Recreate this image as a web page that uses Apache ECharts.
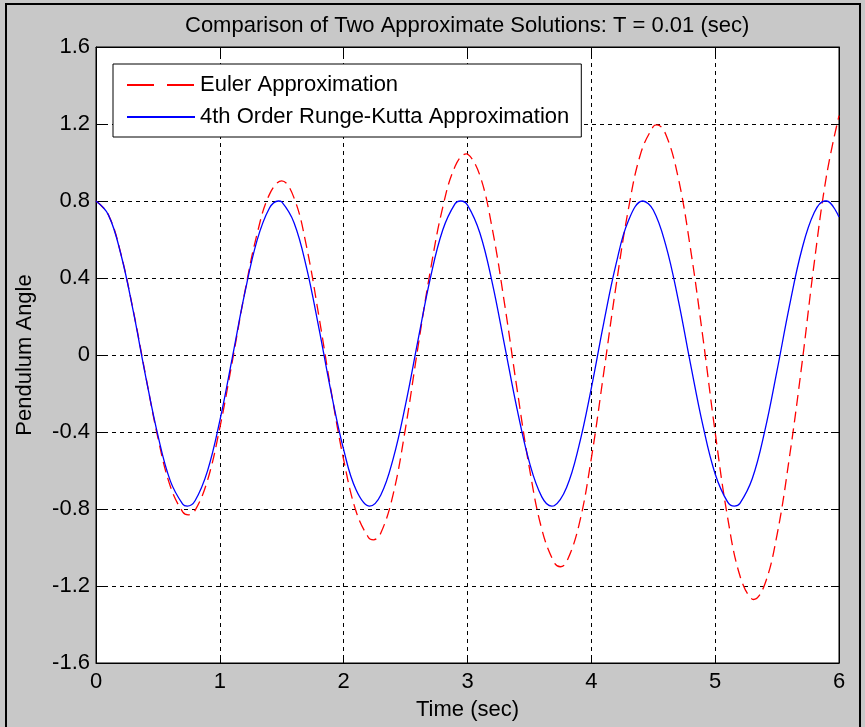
<!DOCTYPE html>
<html lang="en">
  <head>
    <meta charset="UTF-8" />
    <title>Comparison of Two Approximate Solutions</title>
    <style>
      html,
      body {
        margin: 0;
        padding: 0;
        background: #c8c8c8;
      }
      #chart-container {
        width: 865px;
        height: 727px;
      }
    </style>
    <script src="https://cdn.jsdelivr.net/npm/echarts@6/dist/echarts.min.js"></script>
  </head>
  <body>
    <div id="chart-container"></div>
    <script>
      // values (time in sec, angle in rad)
      const eulerTime = [
        0, 0.1, 0.2, 0.3, 0.37, 0.4, 0.5, 0.6, 0.7, 0.745, 0.8, 0.9, 1.0, 1.1,
        1.2, 1.3, 1.4, 1.5, 1.6, 1.7, 1.8, 1.9, 2.0, 2.1, 2.2, 2.24, 2.3, 2.4,
        2.5, 2.6, 2.7, 2.8, 2.9, 2.99, 3.0, 3.1, 3.2, 3.3, 3.4, 3.5, 3.6, 3.7,
        3.75, 3.8, 3.9, 4.0, 4.1, 4.2, 4.3, 4.4, 4.5, 4.53, 4.6, 4.7, 4.8, 4.9,
        5.0, 5.1, 5.2, 5.3, 5.31, 5.4, 5.5, 5.6, 5.7, 5.8, 5.9, 6.0,
      ];
      const eulerAngle = [
        0.8, 0.729, 0.528, 0.234, 0, -0.104, -0.43, -0.682, -0.815, -0.83,
        -0.807, -0.652, -0.378, -0.036, 0.321, 0.627, 0.833, 0.905, 0.815,
        0.564, 0.201, -0.192, -0.545, -0.812, -0.948, -0.96, -0.925, -0.723,
        -0.377, 0.041, 0.438, 0.767, 0.98, 1.045, 1.044, 0.933, 0.656, 0.263,
        -0.176, -0.588, -0.905, -1.078, -1.1, -1.075, -0.884, -0.537, -0.093,
        0.361, 0.76, 1.05, 1.187, 1.195, 1.148, 0.926, 0.555, 0.096, -0.402,
        -0.842, -1.147, -1.269, -1.27, -1.192, -0.933, -0.53, -0.05, 0.479,
        0.935, 1.243,
      ];
      const rkTime = [
        0, 0.1, 0.2, 0.3, 0.4, 0.5, 0.6, 0.7, 0.737, 0.8, 0.9, 1.0, 1.1, 1.2,
        1.3, 1.4, 1.473, 1.5, 1.6, 1.7, 1.8, 1.9, 2.0, 2.1, 2.21, 2.3, 2.4, 2.5,
        2.6, 2.7, 2.8, 2.9, 2.946, 3.0, 3.1, 3.2, 3.3, 3.4, 3.5, 3.6, 3.68, 3.7,
        3.8, 3.9, 4.0, 4.1, 4.2, 4.3, 4.415, 4.5, 4.6, 4.7, 4.8, 4.9, 5.0, 5.1,
        5.155, 5.2, 5.3, 5.4, 5.5, 5.6, 5.7, 5.8, 5.885, 5.9, 6.0,
      ];
      const rkAngle = [
        0.8, 0.728, 0.526, 0.23, -0.108, -0.418, -0.654, -0.775, -0.785,
        -0.757, -0.603, -0.341, -0.016, 0.317, 0.594, 0.762, 0.8, 0.795, 0.686,
        0.454, 0.14, -0.198, -0.492, -0.7, -0.785, -0.727, -0.538, -0.256,
        0.076, 0.399, 0.649, 0.786, 0.8, 0.779, 0.634, 0.375, 0.049, -0.28,
        -0.558, -0.737, -0.785, -0.783, -0.688, -0.472, -0.172, 0.166, 0.473,
        0.699, 0.8, 0.753, 0.573, 0.292, -0.043, -0.363, -0.618, -0.763,
        -0.785, -0.771, -0.642, -0.397, -0.08, 0.255, 0.548, 0.74, 0.8, 0.8,
        0.717,
      ];
      const xTicks = [0, 1, 2, 3, 4, 5, 6];
      const yTicks = [-1.6, -1.2, -0.8, -0.4, 0, 0.4, 0.8, 1.2, 1.6];

      const font = "Liberation Sans, Arial, sans-serif";
      const eulerData = eulerTime.map((t, i) => [t, eulerAngle[i]]);
      const rkData = rkTime.map((t, i) => [t, rkAngle[i]]);

      function axisBase(min, max, step) {
        return {
          type: "value",
          min: min,
          max: max,
          interval: step,
          axisLine: { show: true, onZero: false, lineStyle: { color: "#000", width: 1 } },
          axisTick: { show: true, inside: true, length: 8, lineStyle: { color: "#000" } },
        };
      }

      let dom = document.getElementById("chart-container");
      let myChart = echarts.init(dom, null, { renderer: "canvas" });
      let option = {
        backgroundColor: "#c8c8c8",
        animation: false,
        title: {
          text: "Comparison of Two Approximate Solutions: T = 0.01 (sec)",
          left: 180,
          top: 10,
          textStyle: { fontFamily: font, fontSize: 22, fontWeight: "normal", color: "#000" },
        },
        graphic: [
          {
            type: "rect",
            shape: { x: 6, y: 4, width: 854, height: 740 },
            style: { fill: null, stroke: "#000", lineWidth: 2 },
            silent: true,
          },
        ],
        legend: {
          orient: "vertical",
          left: 113,
          top: 64,
          padding: [9, 12, 8, 13],
          itemGap: 8,
          itemWidth: 68,
          itemHeight: 2,
          itemStyle: { opacity: 0 },
          backgroundColor: "#fff",
          borderColor: "#000",
          borderWidth: 1,
          textStyle: { fontFamily: font, fontSize: 22, color: "#000", lineHeight: 24 },
          data: [
            {
              name: "Euler Approximation",
              lineStyle: { type: [27, 13] },
            },
            { name: "4th Order Runge-Kutta Approximation" },
          ],
        },
        grid: {
          left: 96,
          top: 47,
          right: 26,
          bottom: 64,
          show: true,
          backgroundColor: "#fff",
          borderColor: "#000",
          borderWidth: 1,
        },
        xAxis: [
          Object.assign(axisBase(xTicks[0], xTicks[xTicks.length - 1], 1), {
            position: "bottom",
            name: "Time (sec)",
            nameLocation: "middle",
            nameGap: 36,
            nameTextStyle: { fontFamily: font, fontSize: 22, color: "#000" },
            axisLabel: { margin: 8, fontFamily: font, fontSize: 22, color: "#000" },
            splitLine: { show: true, lineStyle: { color: "#000", type: [4, 4] } },
          }),
          Object.assign(axisBase(xTicks[0], xTicks[xTicks.length - 1], 1), {
            position: "top",
            axisLabel: { show: false },
            splitLine: { show: false },
          }),
        ],
        yAxis: [
          Object.assign(axisBase(yTicks[0], yTicks[yTicks.length - 1], 0.4), {
            position: "left",
            name: "Pendulum Angle",
            nameLocation: "middle",
            nameGap: 60,
            nameTextStyle: { fontFamily: font, fontSize: 22, color: "#000" },
            axisLabel: {
              margin: 6,
              fontFamily: font,
              fontSize: 22,
              color: "#000",
              formatter: (v) => String(Math.round(v * 10) / 10),
            },
            splitLine: { show: true, lineStyle: { color: "#000", type: [4, 4] } },
          }),
          Object.assign(axisBase(yTicks[0], yTicks[yTicks.length - 1], 0.4), {
            position: "right",
            axisLabel: { show: false },
            splitLine: { show: false },
          }),
        ],
        series: [
          {
            name: "Euler Approximation",
            type: "line",
            data: eulerData,
            symbol: "none",
            smooth: 0.4,
            lineStyle: { color: "#ff0000", width: 1.3, type: [11, 6] },
            itemStyle: { color: "#ff0000" },
            z: 3,
          },
          {
            name: "4th Order Runge-Kutta Approximation",
            type: "line",
            data: rkData,
            symbol: "none",
            smooth: 0.4,
            lineStyle: { color: "#0000ff", width: 1.3 },
            itemStyle: { color: "#0000ff" },
            z: 4,
          },
        ],
      };
      if (option && typeof option === "object") {
        myChart.setOption(option);
      }
      window.addEventListener("resize", myChart.resize);
    </script>
  </body>
</html>
